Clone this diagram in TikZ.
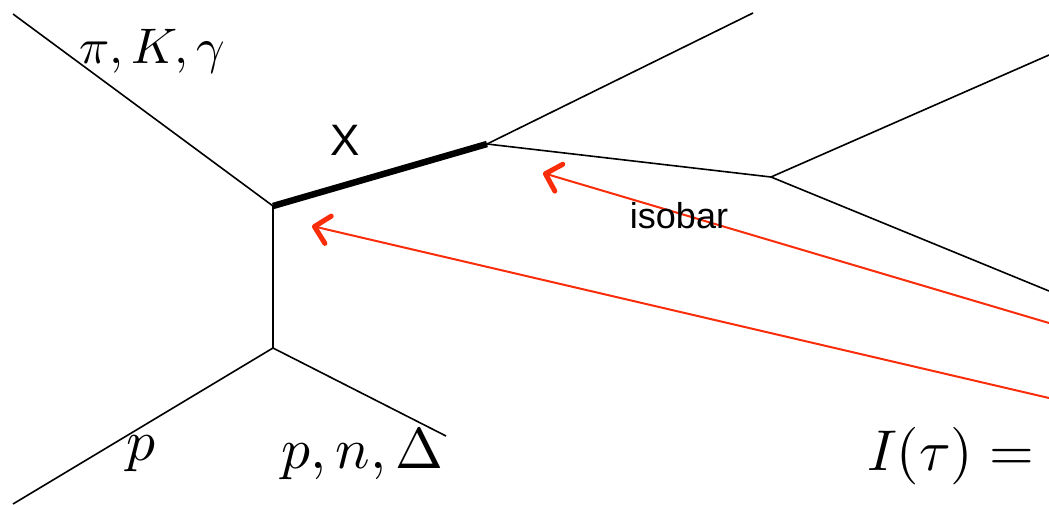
\documentclass[tikz,border=0pt]{standalone}
\usepackage{fontspec}
\newfontfamily\helv{Liberation Sans}
\usetikzlibrary{arrows.meta}
\definecolor{arrowred}{RGB}{250,45,10}
\tikzset{
  prop/.style={line width=1.6pt, black},
  heavy/.style={line width=6.5pt, black, line cap=butt},
  isoarrow/.style={arrowred, line width=2pt, -{Straight Barb[length=14pt, width=28pt, line width=5pt 0, round]}},
  mathlbl/.style={inner sep=0pt, anchor=base west, scale=5.75},
  mathsmall/.style={inner sep=0pt, anchor=base west, scale=5.0},
  sanslbl/.style={inner sep=0pt, font=\helv\fontsize{44}{50}\selectfont}
}
\begin{document}
\begin{tikzpicture}[x=1pt, y=-1pt]
\useasboundingbox (0,0) rectangle (1049,504);
% vertices
\coordinate (A) at (273,206);
\coordinate (B) at (487,144);
\coordinate (C) at (771,177);
\coordinate (D) at (273,348);
% free ends
\coordinate (TL) at (13,14);
\coordinate (TR) at (753,13);
\coordinate (R1) at (1049,55);
\coordinate (R2) at (1049,291);
\coordinate (BL) at (13,504);
\coordinate (BR) at (446,436);
\coordinate (E1) at (1049,323);
\coordinate (T1) at (543,173);
\coordinate (E2) at (1049,398);
\coordinate (T2) at (312,226);
% lines
\draw[prop] (TL) -- (A);
\draw[prop] (B) -- (TR);
\draw[prop] (B) -- (C);
\draw[prop] (C) -- (R1);
\draw[prop] (C) -- (R2);
\draw[prop] (A) -- (D);
\draw[prop] (D) -- (BL);
\draw[prop] (D) -- (BR);
\draw[heavy] (A) -- (B);
% isobar arrows
\draw[isoarrow] (E1) -- (T1);
\draw[isoarrow] (E2) -- (T2);
% labels
\node[mathsmall] (lpi) at (78,63) {$\pi, K, \gamma$};
\node[sanslbl] (lX) at (345,140) {X};
\node[sanslbl, font=\helv\fontsize{36}{40}\selectfont] (liso) at (679,216) {isobar};
\node[mathlbl] (lp) at (125,460) {$p$};
\node[mathlbl] (lpn) at (280,468) {$p, n, \Delta$};
\node[mathlbl] (lI) at (866,470) {$I(\tau) =$};
\end{tikzpicture}
\end{document}
